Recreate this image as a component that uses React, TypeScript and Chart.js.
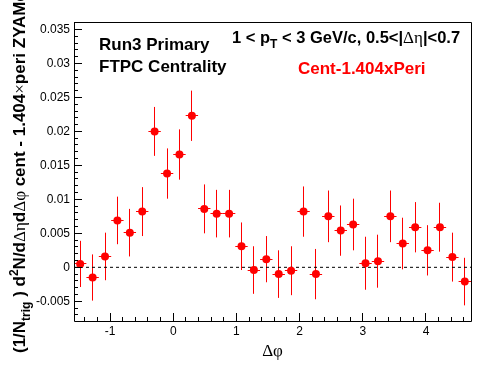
import React, { useEffect, useRef } from 'react';
import { Chart, registerables } from 'chart.js';

Chart.register(...registerables);

// Δφ bin centres (32 bins from -π/2 to 3π/2)
const binCenters = [
  -1.473, -1.276, -1.080, -0.884, -0.687, -0.491, -0.295, -0.098,
  0.098, 0.295, 0.491, 0.687, 0.884, 1.080, 1.276, 1.473,
  1.669, 1.865, 2.062, 2.258, 2.454, 2.651, 2.847, 3.043,
  3.240, 3.436, 3.632, 3.829, 4.025, 4.221, 4.418, 4.614,
];
const values = [
  0.0005, -0.0015, 0.0016, 0.0069, 0.0051, 0.0082, 0.0200, 0.0138,
  0.0166, 0.0223, 0.0086, 0.0079, 0.0079, 0.0031, -0.0004, 0.0012,
  -0.0010, -0.0005, 0.0082, -0.0010, 0.0075, 0.0054, 0.0063, 0.0006,
  0.0009, 0.0075, 0.0035, 0.0059, 0.0025, 0.0059, 0.0015, -0.0021,
];
const errors = [
  0.0034, 0.0034, 0.0035, 0.0035, 0.0035, 0.0036, 0.0036, 0.0037,
  0.0037, 0.0037, 0.0036, 0.0035, 0.0035, 0.0035, 0.0035, 0.0034,
  0.0035, 0.0036, 0.0037, 0.0037, 0.0038, 0.0037, 0.0038, 0.0039,
  0.0039, 0.0038, 0.0038, 0.0037, 0.0037, 0.0036, 0.0036, 0.0035,
];
const binHalfWidth = 0.098;
const xTicks = [-1, 0, 1, 2, 3, 4];
const yTicks = [-0.005, 0, 0.005, 0.01, 0.015, 0.02, 0.025, 0.03, 0.035];
const xMin = -1.5708;
const xMax = 4.7124;
const yMin = -0.0079;
const yMax = 0.0361;

const SANS_B = (s: number) => `bold ${s}px "Liberation Sans", Arial, sans-serif`;
const SERIF = (s: number) => `${s}px "Liberation Serif", "Times New Roman", serif`;

type Part = { t: string; font: string; dy?: number; color?: string };

function drawRich(ctx: CanvasRenderingContext2D, parts: Part[], x: number, y: number) {
  let cx = x;
  for (const p of parts) {
    ctx.font = p.font;
    ctx.fillStyle = p.color || '#000';
    ctx.fillText(p.t, cx, y + (p.dy || 0));
    cx += ctx.measureText(p.t).width;
  }
}

const px = (v: number) => Math.floor(v) + 0.5;

const rootPlugin = {
  id: 'rootStyle',
  beforeDatasetsDraw(chart: any) {
    const { ctx } = chart;
    const xs = chart.scales.x;
    const ys = chart.scales.y;
    const area = chart.chartArea;
    ctx.save();
    ctx.beginPath();
    ctx.rect(area.left, area.top, area.right - area.left, area.bottom - area.top);
    ctx.clip();
    ctx.strokeStyle = '#ff0000';
    ctx.lineWidth = 1;
    ctx.beginPath();
    for (let i = 0; i < binCenters.length; i++) {
      const x = px(xs.getPixelForValue(binCenters[i]));
      const y = px(ys.getPixelForValue(values[i]));
      const y1 = ys.getPixelForValue(values[i] + errors[i]);
      const y2 = ys.getPixelForValue(values[i] - errors[i]);
      ctx.moveTo(x, y1);
      ctx.lineTo(x, y2);
      const xl = xs.getPixelForValue(binCenters[i] - binHalfWidth);
      const xr = xs.getPixelForValue(binCenters[i] + binHalfWidth);
      ctx.moveTo(xl, y);
      ctx.lineTo(xr, y);
    }
    ctx.stroke();
    ctx.restore();
  },
  afterDraw(chart: any) {
    const { ctx } = chart;
    const xs = chart.scales.x;
    const ys = chart.scales.y;
    const a = chart.chartArea;
    ctx.save();
    ctx.strokeStyle = '#000';
    ctx.lineWidth = 1;
    // frame
    const L = px(a.left), R = px(a.right), T = px(a.top), B = px(a.bottom);
    ctx.beginPath();
    ctx.moveTo(L, T); ctx.lineTo(R, T); ctx.lineTo(R, B); ctx.lineTo(L, B); ctx.closePath();
    ctx.stroke();
    // y ticks (inward)
    ctx.beginPath();
    for (let k = -7; k <= 36; k++) {
      const v = k / 1000;
      const y = px(ys.getPixelForValue(v));
      if (y < a.top || y > a.bottom) continue;
      const major = k % 5 === 0;
      ctx.moveTo(a.left, y);
      ctx.lineTo(a.left + (major ? 8 : 4), y);
    }
    // x ticks (inward)
    for (let k = -7; k <= 23; k++) {
      const v = k / 5;
      const x = px(xs.getPixelForValue(v));
      if (x < a.left || x > a.right) continue;
      const major = k % 5 === 0;
      ctx.moveTo(x, a.bottom);
      ctx.lineTo(x, a.bottom - (major ? 8 : 4));
    }
    ctx.stroke();

    ctx.textBaseline = 'alphabetic';
    ctx.textAlign = 'left';
    // legend-like labels
    drawRich(ctx, [{ t: 'Run3 Primary', font: SANS_B(17) }], 99, 50);
    drawRich(ctx, [{ t: 'FTPC Centrality', font: SANS_B(17) }], 99, 72);
    drawRich(ctx, [
      { t: '1 < p', font: SANS_B(16.5) },
      { t: 'T', font: SANS_B(12), dy: 5 },
      { t: ' < 3 GeV/c, 0.5<|', font: SANS_B(16.5) },
      { t: 'Δη', font: SERIF(17) },
      { t: '|<0.7', font: SANS_B(16.5) },
    ], 232, 43);
    drawRich(ctx, [{ t: 'Cent-1.404xPeri', font: SANS_B(17), color: '#ff0000' }], 298, 74);

    // x title
    ctx.font = SERIF(17);
    const xt = 'Δφ';
    const w = ctx.measureText(xt).width;
    ctx.fillStyle = '#000';
    ctx.fillText(xt, (a.left + a.right) / 2 - w / 2, 356);

    // y title (rotated)
    ctx.translate(25, 353);
    ctx.rotate(-Math.PI / 2);
    drawRich(ctx, [
      { t: '(1/N', font: SANS_B(17) },
      { t: 'trig', font: SANS_B(12), dy: 5 },
      { t: ' ) d', font: SANS_B(17) },
      { t: '2', font: SANS_B(12), dy: -7 },
      { t: 'N/d', font: SANS_B(17) },
      { t: 'Δη', font: SERIF(17) },
      { t: 'd', font: SANS_B(17) },
      { t: 'Δφ', font: SERIF(17) },
      { t: ' cent - 1.404', font: SANS_B(17) },
      { t: '×', font: SERIF(17) },
      { t: 'peri ZYAMed', font: SANS_B(17) },
    ], 0, 0);
    ctx.restore();
  },
};

export default function App() {
  const ref = useRef<HTMLCanvasElement>(null);
  useEffect(() => {
    document.body.style.margin = '0';
    const canvas = ref.current;
    if (!canvas) return;
    Chart.defaults.font.family = '"Liberation Sans", Arial, sans-serif';
    const chart = new Chart(canvas, {
      type: 'scatter',
      data: {
        datasets: [
          {
            type: 'line',
            data: [{ x: xMin, y: 0 }, { x: xMax, y: 0 }],
            borderColor: '#000',
            borderWidth: 1,
            borderDash: [3, 3],
            pointRadius: 0,
            order: 2,
          } as any,
          {
            data: binCenters.map((x, i) => ({ x, y: values[i] })),
            backgroundColor: '#ff0000',
            borderColor: '#ff0000',
            pointRadius: 4,
            pointBorderWidth: 0,
            pointHoverRadius: 4,
            order: 1,
          },
        ],
      },
      options: {
        responsive: false,
        animation: false,
        devicePixelRatio: 1,
        events: [],
        layout: { padding: { top: 22, right: 25, left: 0, bottom: 0 } },
        plugins: { legend: { display: false }, tooltip: { enabled: false } },
        scales: {
          x: {
            type: 'linear',
            min: xMin,
            max: xMax,
            grid: { display: false, drawTicks: false },
            border: { display: false },
            afterBuildTicks: (s: any) => { s.ticks = xTicks.map((v) => ({ value: v })); },
            afterFit: (s: any) => { s.height = 53; },
            ticks: {
              padding: 3,
              color: '#000',
              font: { size: 12 },
              maxRotation: 0,
              autoSkip: false,
              callback: (v: any) => String(v),
            },
          },
          y: {
            type: 'linear',
            min: yMin,
            max: yMax,
            grid: { display: false, drawTicks: false },
            border: { display: false },
            afterBuildTicks: (s: any) => { s.ticks = yTicks.map((v) => ({ value: v })); },
            afterFit: (s: any) => { s.width = 74; },
            ticks: {
              padding: 4,
              color: '#000',
              font: { size: 12 },
              autoSkip: false,
              callback: (v: any) => String(Number(Number(v).toFixed(4))),
            },
          },
        },
      },
      plugins: [rootPlugin],
    });
    return () => chart.destroy();
  }, []);
  return (
    <div style={{ position: 'fixed', left: 0, top: 0, width: 496, height: 374, background: '#fff' }}>
      <canvas ref={ref} width={496} height={374} style={{ width: 496, height: 374, display: 'block' }} />
    </div>
  );
}
